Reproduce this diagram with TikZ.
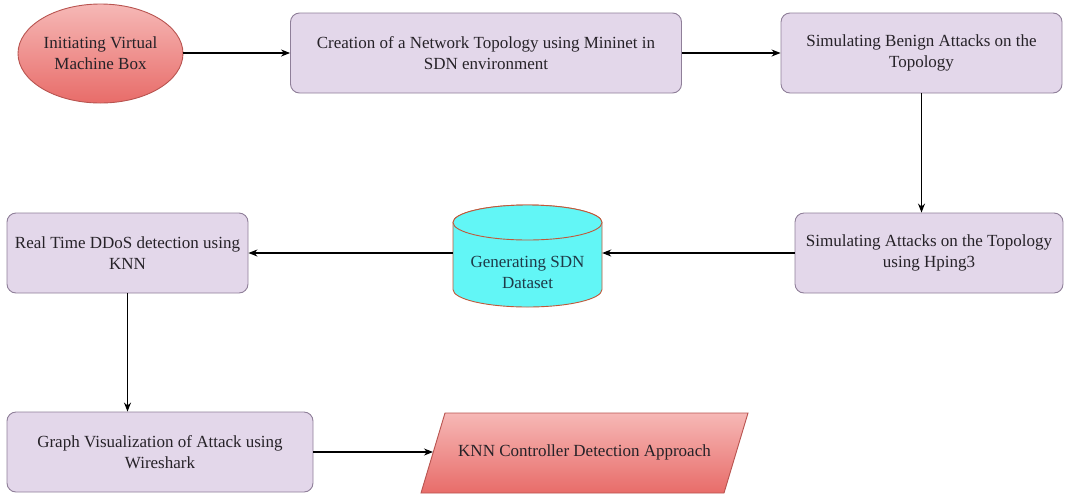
\documentclass[tikz,border=0pt]{standalone}
\usepackage{fontspec}
\setmainfont{Liberation Serif}
\usetikzlibrary{arrows.meta,shapes.geometric}

\definecolor{boxfill}{HTML}{E3D7EA}
\definecolor{boxline}{HTML}{8F7F99}
\definecolor{txtcol}{HTML}{262228}
\definecolor{redtop}{HTML}{F6B8B6}
\definecolor{redbot}{HTML}{E86C69}
\definecolor{redline}{HTML}{B85450}
\definecolor{cyanfill}{HTML}{62F6F6}
\definecolor{cyanline}{HTML}{C0583A}
\definecolor{cyantxt}{HTML}{1E3A48}

\begin{document}
\begin{tikzpicture}[x=1pt,y=-1pt,
  font=\fontsize{17}{21}\selectfont,
  stepbox/.style={rectangle, rounded corners=9pt, draw=boxline, fill=boxfill,
    line width=0.9pt, align=center, text=txtcol, inner sep=0pt, minimum height=80pt},
  startell/.style={ellipse, draw=redline, line width=0.9pt, top color=redtop,
    bottom color=redbot, align=center, text=txtcol, inner sep=0pt},
  arr/.style={-{Stealth[length=9pt,width=7pt]}, line width=1.1pt, draw=black}]

\useasboundingbox (0,0) rectangle (1068,499);

% start ellipse
\node[startell, minimum width=165pt, minimum height=99pt] (init) at (100.5,53.5)
  {Initiating Virtual\\Machine Box};

% process boxes
\node[stepbox, minimum width=391pt] (topo) at (486,53)
  {Creation of a Network Topology using Mininet in\\SDN environment};
\node[stepbox, minimum width=281pt] (benign) at (921.5,53)
  {Simulating Benign Attacks on the\\Topology};
\node[stepbox, minimum width=268pt] (hping) at (929,253)
  {Simulating Attacks on the Topology\\using Hping3};
\node[stepbox, minimum width=241pt] (knn) at (127.5,253)
  {Real Time DDoS detection using\\KNN};
\node[stepbox, minimum width=306pt] (graph) at (160,452)
  {Graph Visualization of Attack using\\Wireshark};

% dataset cylinder
\path[fill=cyanfill, draw=cyanline, line width=0.9pt]
  (453,222.5) -- (453,289.5)
  arc[start angle=180, end angle=360, x radius=74.5pt, y radius=17.5pt]
  -- (602,222.5)
  arc[start angle=0, end angle=180, x radius=74.5pt, y radius=17.5pt] -- cycle;
\draw[fill=cyanfill, draw=cyanline, line width=0.9pt]
  (527.5,222.5) ellipse [x radius=74.5pt, y radius=17.5pt];
\node[minimum width=149pt, minimum height=67pt, inner sep=0pt, align=center,
  text=cyantxt] (ds) at (527.5,272.5) {Generating SDN\\Dataset};

% output parallelogram
\path[draw=redline, line width=0.9pt, top color=redtop, bottom color=redbot]
  (421,493) -- (445,413) -- (748,413) -- (724,493) -- cycle;
\node[text=txtcol] (out) at (584.5,452) {KNN Controller Detection Approach};
\coordinate (outin) at (433,452);

% connectors
\draw[arr] (init.east |- topo.west) -- (topo.west);
\draw[arr] (topo.east) -- (benign.west);
\draw[arr] (benign.south) -- (benign.south |- hping.north);
\draw[arr] (hping.west) -- (hping.west -| ds.east);
\draw[arr] (ds.west |- knn.east) -- (knn.east);
\draw[arr] (knn.south) -- (knn.south |- graph.north);
\draw[arr] (graph.east) -- (outin);
\end{tikzpicture}
\end{document}
